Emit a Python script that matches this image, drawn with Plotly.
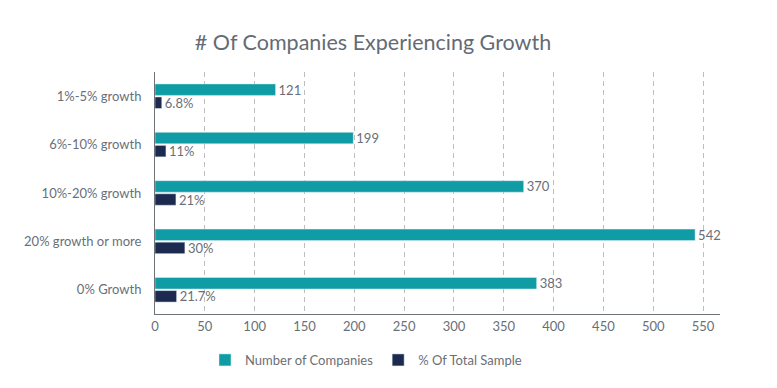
import plotly.graph_objects as go

categories = ["1%-5% growth", "6%-10% growth", "10%-20% growth", "20% growth or more", "0% Growth"]
companies = [121, 199, 370, 542, 383]
percent = [6.8, 11, 21, 30, 21.7]
percent_labels = ["6.8%", "11%", "21%", "30%", "21.7%"]
tick_vals = [0, 50, 100, 150, 200, 250, 300, 350, 400, 450, 500, 550]

teal = "#0f9ca4"
navy = "#1b2a4e"
font_color = "#6a6f77"
font = "Lato, 'Open Sans', sans-serif"

W, H = 769, 380

fig = go.Figure()
fig.add_trace(go.Bar(
    y=categories, x=companies, orientation="h", name="Number of Companies",
    marker_color=teal, text=[str(v) for v in companies], textposition="outside",
    textfont=dict(color=font_color, size=13, family=font), cliponaxis=False,
    constraintext="none",
))
fig.add_trace(go.Bar(
    y=categories, x=percent, orientation="h", name="% Of Total Sample",
    marker_color=navy, text=percent_labels, textposition="outside",
    textfont=dict(color=font_color, size=13, family=font), cliponaxis=False,
    constraintext="none",
))

fig.update_layout(
    width=W, height=H,
    margin=dict(l=147, r=57, t=64, b=74, autoexpand=False),
    paper_bgcolor="white", plot_bgcolor="white",
    barmode="group", bargap=0.46, bargroupgap=0.12,
    font=dict(family=font, color=font_color, size=13),
    title=dict(text="# Of Companies Experiencing Growth", x=365 / W, xref="container",
               y=1 - 34 / H, yref="container", xanchor="center", yanchor="middle",
               font=dict(size=21.5, color="#646b75", family=font)),
    legend=dict(orientation="h", x=(358 - 147) / 565, xanchor="center",
                y=-0.19, yanchor="middle", font=dict(size=13, color=font_color),
                traceorder="normal", itemwidth=30),
    showlegend=True,
)
fig.update_xaxes(
    range=[0, 567], tickvals=tick_vals, showgrid=True, gridcolor="#bdbdbd",
    griddash="5px,4px", gridwidth=1, showline=True, linecolor="#6e737a", linewidth=1,
    zeroline=False, tickfont=dict(size=13, color=font_color), ticks="",
    automargin=False, tickangle=0,
)
fig.update_yaxes(
    autorange="reversed", showline=True, linecolor="#6e737a", linewidth=1,
    showgrid=False, ticks="outside", ticklen=10, tickcolor="rgba(0,0,0,0)",
    tickfont=dict(size=13, color=font_color), automargin=False,
)

fig.write_html("out.html")
